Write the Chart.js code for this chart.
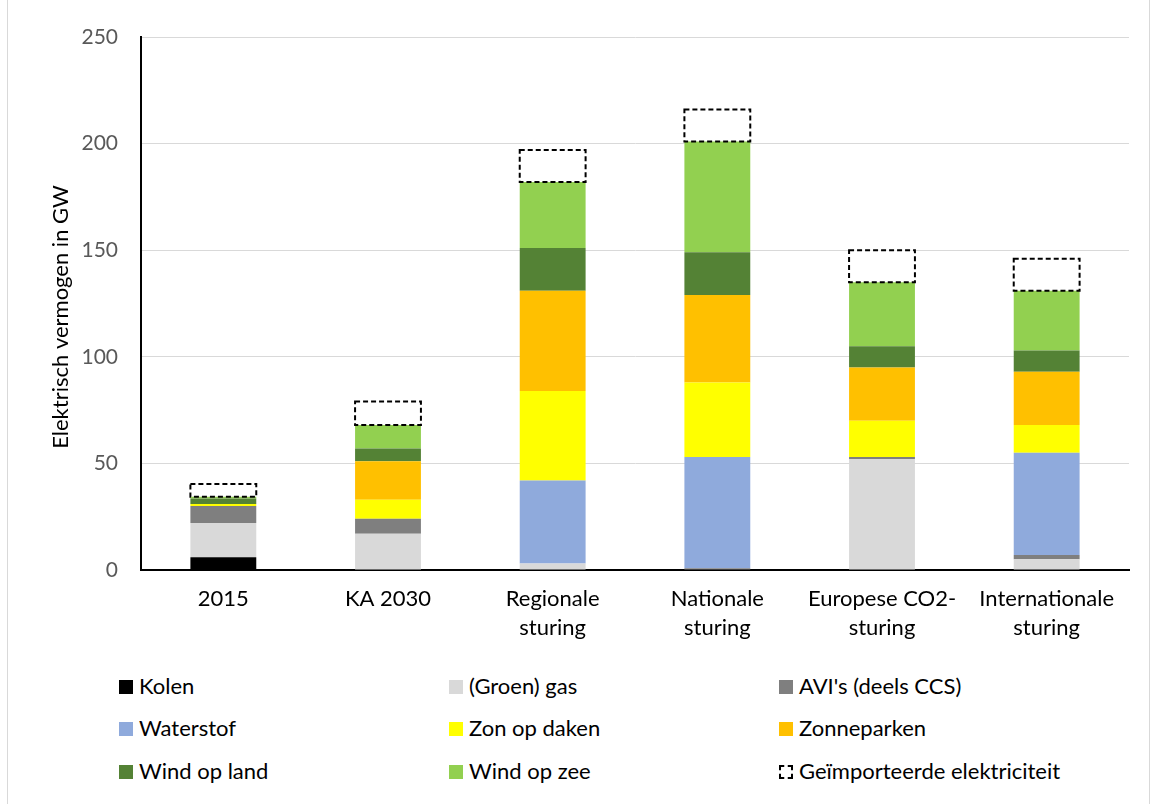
<!DOCTYPE html>
<html>
<head>
<meta charset="utf-8">
<script src="https://cdn.jsdelivr.net/npm/chart.js@4.4.1/dist/chart.umd.min.js"></script>
<style>
  body { margin: 0; background: #fff; font-family: Lato, "Open Sans", sans-serif; }
  #frame { position: absolute; left: 7px; top: -2px; width: 1141px; height: 810px; border: 1px solid #d9d9d9; }
  #wrap { position: absolute; left: 0; top: 0; width: 1157px; height: 660px; }
  #legend { position: absolute; left: 0; top: 660px; width: 1157px; height: 144px; }
  .item { position: absolute; font-size: 22px; color: #000; line-height: 22px; white-space: nowrap; }
  .box { display: inline-block; width: 14px; height: 14px; margin-right: 6px; vertical-align: 0px; box-sizing: border-box; }
</style>
</head>
<body>
<div id="frame"></div>
<div id="wrap"><canvas id="myChart" width="1157" height="660"></canvas></div>
<div id="legend"></div>
<script>
const categories = ['2015', 'KA 2030', ['Regionale', 'sturing'], ['Nationale', 'sturing'], ['Europese CO2-', 'sturing'], ['Internationale', 'sturing']];
const kolen = [6, 0, 0, 0, 0, 0];
const groenGas = [16, 17, 3, 0, 52, 5];
const avi = [8, 7, 0, 0.8, 1, 2];
const waterstof = [0, 0, 39, 52.2, 0, 48];
const zonOpDaken = [1, 9, 42, 35, 17, 13];
const zonneparken = [0, 18, 47, 41, 25, 25];
const windOpLand = [2.5, 6, 20, 20, 10, 10];
const windOpZee = [0.8, 11, 31, 52, 30, 28];
const geimporteerd = [6, 11, 15, 15, 15, 15];
const yTicks = [0, 50, 100, 150, 200, 250];

const series = [
  { label: 'Kolen', data: kolen, color: '#000000' },
  { label: '(Groen) gas', data: groenGas, color: '#d9d9d9' },
  { label: "AVI's (deels CCS)", data: avi, color: '#7f7f7f' },
  { label: 'Waterstof', data: waterstof, color: '#8faadc' },
  { label: 'Zon op daken', data: zonOpDaken, color: '#ffff00' },
  { label: 'Zonneparken', data: zonneparken, color: '#ffc000' },
  { label: 'Wind op land', data: windOpLand, color: '#548235' },
  { label: 'Wind op zee', data: windOpZee, color: '#92d050' },
  { label: 'Geïmporteerde elektriciteit', data: geimporteerd, color: '#ffffff', dashed: true },
];

// dashed outline for the import bars (bar elements have no borderDash)
const dashedBars = {
  id: 'dashedBars',
  afterDatasetsDraw(chart) {
    const ctx = chart.ctx;
    chart.data.datasets.forEach((ds, i) => {
      if (!ds.dashed) return;
      chart.getDatasetMeta(i).data.forEach(bar => {
        const p = bar.getProps(['x', 'y', 'base', 'width'], true);
        if (Math.abs(p.base - p.y) < 0.5) return;
        ctx.save();
        ctx.strokeStyle = '#000';
        ctx.lineWidth = 2;
        ctx.setLineDash([5, 3]);
        ctx.strokeRect(p.x - p.width / 2, p.y, p.width, p.base - p.y);
        ctx.restore();
      });
    });
  }
};

const yTitle = {
  id: 'yTitle',
  afterDraw(chart) {
    const ctx = chart.ctx;
    ctx.save();
    ctx.translate(61, 317);
    ctx.rotate(-Math.PI / 2);
    ctx.font = '22px Lato';
    ctx.fillStyle = '#000';
    ctx.textAlign = 'center';
    ctx.textBaseline = 'middle';
    ctx.fillText('Elektrisch vermogen in GW', 0, 0);
    ctx.restore();
  }
};

const chart = new Chart(document.getElementById('myChart'), {
  type: 'bar',
  data: {
    labels: categories,
    datasets: series.map(s => ({
      label: s.label,
      data: s.data,
      backgroundColor: s.color,
      borderWidth: 0,
      dashed: !!s.dashed,
      barPercentage: 0.4,
      categoryPercentage: 1,
    })),
  },
  options: {
    responsive: false,
    animation: false,
    layout: { padding: { top: 37, right: 28, left: 0, bottom: 0 } },
    plugins: { legend: { display: false }, tooltip: { enabled: false } },
    scales: {
      x: {
        stacked: true,
        grid: { display: false, drawTicks: false },
        border: { color: '#000', width: 2 },
        ticks: { color: '#000', font: { family: 'Lato', size: 22, lineHeight: 1.3 }, padding: 15, maxRotation: 0, autoSkip: false },
        afterFit(scale) { scale.height = 90; },
      },
      y: {
        stacked: true,
        min: 0,
        max: 250,
        afterBuildTicks(scale) { scale.ticks = yTicks.map(v => ({ value: v })); },
        grid: { color: '#d9d9d9', lineWidth: 1, drawTicks: false },
        border: { color: '#000', width: 2 },
        ticks: { color: '#595959', font: { family: 'Lato', size: 21 }, padding: 23 },
        afterFit(scale) { scale.width = 141; },
      },
    },
  },
  plugins: [dashedBars, yTitle],
});

// legend grid, 3 columns, built from the chart's datasets
const legend = document.getElementById('legend');
const colX = [119, 449, 779];
const rowY = [15, 57, 100];
chart.data.datasets.forEach((ds, i) => {
  const el = document.createElement('div');
  el.className = 'item';
  el.style.left = colX[i % 3] + 'px';
  el.style.top = rowY[Math.floor(i / 3)] + 'px';
  const box = document.createElement('span');
  box.className = 'box';
  if (ds.dashed) {
    box.style.border = '2px dashed #000';
    box.style.background = '#fff';
  } else {
    box.style.background = ds.backgroundColor;
  }
  el.appendChild(box);
  el.appendChild(document.createTextNode(ds.label));
  legend.appendChild(el);
});
</script>
</body>
</html>
